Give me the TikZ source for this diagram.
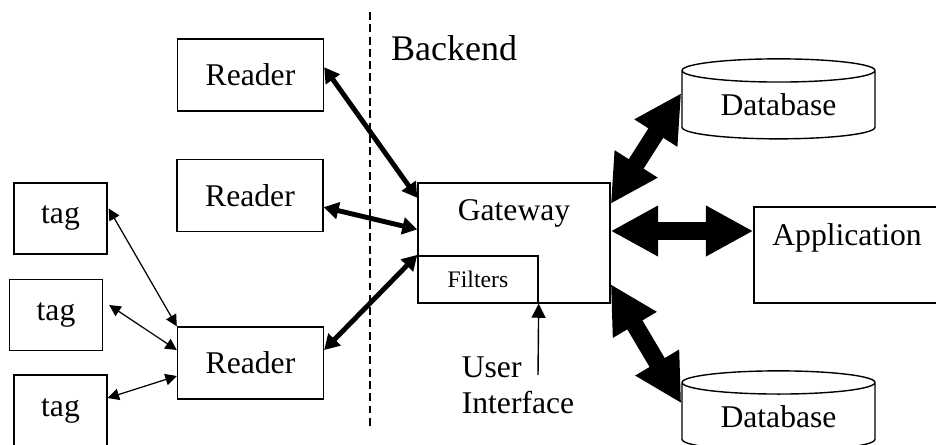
\documentclass[tikz,border=0pt]{standalone}
\usepackage{fontspec}
\setmainfont{Liberation Serif}
\usepackage{tikz}
\usetikzlibrary{arrows.meta,shapes.geometric,positioning}
\tikzset{
  basic/.style   = {draw, line width=0.8pt, rectangle, font=\fontsize{18}{20.5}\selectfont, inner sep=0pt},
  rdr/.style     = {basic, minimum width=2.92cm, minimum height=1.44cm},
  tagbox/.style  = {basic, minimum width=1.86cm, minimum height=1.42cm},
  db/.style      = {basic, cylinder, shape border rotate=90, aspect=0.2,
                    minimum width=3.86cm, minimum height=1.6cm},
  every label/.style = {font=\fontsize{18}{20.5}\selectfont, inner sep=0pt},
  thin link/.style  = {line width=0.7pt, {Triangle[length=6.5pt,width=6.5pt]}-{Triangle[length=6.5pt,width=6.5pt]}},
  mid link/.style   = {line width=2.8pt, {Triangle[length=8.5pt,width=9.5pt]}-{Triangle[length=8.5pt,width=9.5pt]}},
  fat link/.style   = {line width=10pt, {Triangle[length=27pt,width=27pt]}-{Triangle[length=27pt,width=27pt]}}
}

\begin{document}
\begin{tikzpicture}[x=0.02cm,y=-0.02cm]
\useasboundingbox (0,0) rectangle (936,444);
% frontend
\node[rdr] (r1) at (250.5,75) {Reader};
\node[rdr] (r2) at (250,195.5) {Reader};
\node[rdr] (r3) at (250.5,363) {Reader};
\node[tagbox] (t1) at (60.5,218.5) {tag};
\node[tagbox] (t2) at (56,315) {tag};
\node[tagbox] (t3) at (60.5,410.5) {tag};
% border
\coordinate (dtop) at (370,12);
\coordinate (dbot) at (370,428);
\draw[line width=0.8pt, dash pattern=on 4.5pt off 2.5pt] (dtop) -- (dbot);
\node[font=\fontsize{20.5}{23}\selectfont] (be) at (454,48) {Backend};
% backend
\node[basic, minimum width=3.84cm, minimum height=2.4cm,
      label={[yshift=0.6cm]center:Gateway}] (gw) at (514,243) {};
\node[basic, minimum width=2.4cm, minimum height=0.94cm, font=\fontsize{13.5}{15}\selectfont] (filt) at (478,279.5) {Filters};
\node[basic, minimum width=3.72cm, minimum height=1.92cm,
      label={[yshift=0.34cm]center:Application}] (app) at (847,255) {};
\node[db] (db1) at (778.5,105) {Database};
\node[db] (db2) at (778.5,417) {Database};
\node[font=\fontsize{18}{20.5}\selectfont, align=left] (ui) at (518,385) {User\\Interface};
\coordinate (uiend) at (538,375);
% links
\draw[thin link] (t1.east) ++(1,-10) coordinate (a1) -- (r3.north west);
\draw[thin link] (t2.east) ++(6,-10) coordinate (a2) -- (r3.170);
\draw[thin link] (t3.east) ++(0,-12.5) coordinate (a3) -- (r3.190);
\draw[mid link] (r1.6) -- (gw.155);
\draw[mid link] (r2.-9) -- (gw.172);
\draw[mid link] (r3.10) -- (gw.187);
\draw[fat link] (gw.22) -- (db1.173);
\draw[fat link] (gw.east) ++(0,-12) coordinate (g2) -- (g2 -| app.west);
\draw[fat link] (gw.-23) -- (db2.172);
\draw[line width=0.8pt, -{Triangle[length=8pt,width=8pt]}] (uiend) -- (filt.south east);
\end{tikzpicture}
\end{document}
